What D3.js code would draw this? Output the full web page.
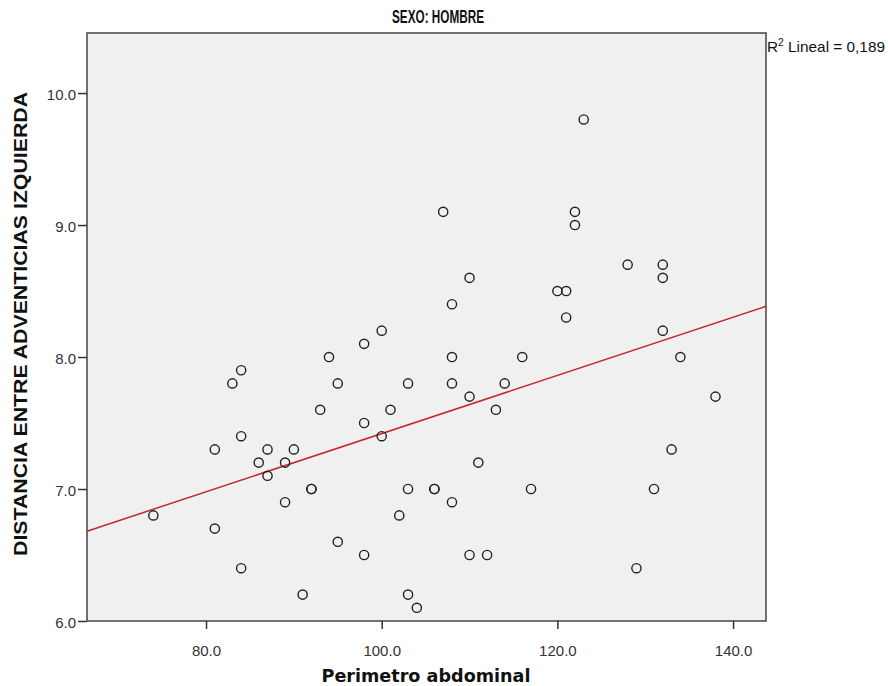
<!DOCTYPE html>
<html><head><meta charset="utf-8">
<script src="https://cdn.jsdelivr.net/npm/d3@7"></script>
<style>body{margin:0;background:#fff}svg{display:block}</style>
</head><body><div id="chart"></div>
<script>
const perimetro = [74,81,81,83,84,84,84,86,87,87,89,89,90,91,92,92,93,94,95,95,98,98,98,100,100,101,102,103,103,103,104,106,106,107,108,108,108,108,110,110,110,111,112,113,114,116,117,120,121,121,122,122,123,128,129,131,132,132,132,133,134,138];
const distancia = [6.8,7.3,6.7,7.8,7.9,7.4,6.4,7.2,7.3,7.1,7.2,6.9,7.3,6.2,7.0,7.0,7.6,8.0,7.8,6.6,8.1,7.5,6.5,8.2,7.4,7.6,6.8,7.8,7.0,6.2,6.1,7.0,7.0,9.1,8.4,8.0,7.8,6.9,8.6,7.7,6.5,7.2,6.5,7.6,7.8,8.0,7.0,8.5,8.5,8.3,9.1,9.0,9.8,8.7,6.4,7.0,8.7,8.6,8.2,7.3,8.0,7.7];
const xTicks = [80,100,120,140];
const yTicks = [6,7,8,9,10];
const xDomain = [66.45, 143.75];
const yDomain = [6.0, 10.455];

const W = 888, H = 686;
const m = {left:87, right:766, top:33, bottom:621};
const svg = d3.select("#chart").append("svg").attr("width",W).attr("height",H);
const x = d3.scaleLinear().domain(xDomain).range([m.left, m.right]);
const y = d3.scaleLinear().domain(yDomain).range([m.bottom, m.top]);

svg.append("rect").attr("x",m.left).attr("y",m.top).attr("width",m.right-m.left).attr("height",m.bottom-m.top)
  .attr("fill","#f0f0f0").attr("stroke","#444").attr("stroke-width",1.5);

// regression (least squares on the data)
const n = perimetro.length;
const mx = d3.mean(perimetro), my = d3.mean(distancia);
let sxy=0,sxx=0;
for(let i=0;i<n;i++){sxy+=(perimetro[i]-mx)*(distancia[i]-my);sxx+=(perimetro[i]-mx)**2;}
const b = sxy/sxx, a = my - b*mx;
svg.append("line").attr("x1",x(xDomain[0])).attr("x2",x(xDomain[1]))
  .attr("y1",y(a+b*xDomain[0])).attr("y2",y(a+b*xDomain[1]))
  .attr("stroke","#c3282d").attr("stroke-width",1.5);

svg.append("g").selectAll("circle").data(perimetro).join("circle")
  .attr("cx",(d)=>x(d)).attr("cy",(d,i)=>y(distancia[i])).attr("r",4.6)
  .attr("fill","none").attr("stroke","#222").attr("stroke-width",1.4);

const fmt = d3.format(".1f");
const xa = svg.append("g").attr("transform",`translate(0,${m.bottom})`)
  .call(d3.axisBottom(x).tickValues(xTicks).tickFormat(fmt).tickSize(8).tickSizeOuter(0));
xa.select(".domain").remove();
xa.selectAll("line").attr("stroke","#333").attr("stroke-width",1.5);
xa.selectAll("text").attr("font-family","Liberation Sans, Arial, sans-serif").attr("font-size",15).attr("fill","#333").attr("y",35).attr("dy",0);

const ya = svg.append("g").attr("transform",`translate(${m.left},0)`)
  .call(d3.axisLeft(y).tickValues(yTicks).tickFormat(fmt).tickSize(9).tickSizeOuter(0));
ya.select(".domain").remove();
ya.selectAll("line").attr("stroke","#333").attr("stroke-width",1.5);
ya.selectAll("text").attr("font-family","Liberation Sans, Arial, sans-serif").attr("font-size",15).attr("fill","#333").attr("x",-11).attr("dy","0.42em");

svg.append("text").attr("x",438).attr("y",23).attr("text-anchor","middle")
  .attr("font-family","Liberation Sans Narrow, Arial Narrow, Liberation Sans, sans-serif").attr("font-weight","bold").attr("font-size",19)
  .attr("textLength",92).attr("lengthAdjust","spacingAndGlyphs").attr("fill","#111").text("SEXO: HOMBRE");

const r2 = svg.append("text").attr("x",767).attr("y",52)
  .attr("font-family","Liberation Sans Narrow, Arial Narrow, Liberation Sans, sans-serif").attr("font-size",15).attr("fill","#111")
  .attr("textLength",118).attr("lengthAdjust","spacingAndGlyphs");
r2.append("tspan").text("R");
r2.append("tspan").attr("dy",-6).attr("font-size",10).text("2");
r2.append("tspan").attr("dy",6).text(" Lineal = 0,189");

svg.append("text").attr("x",426).attr("y",682).attr("text-anchor","middle")
  .attr("font-family","DejaVu Sans, Verdana, sans-serif").attr("font-weight","bold").attr("font-size",18)
  .attr("textLength",209).attr("lengthAdjust","spacingAndGlyphs").attr("fill","#111").text("Perimetro abdominal");

svg.append("text").attr("transform","translate(27,324) rotate(-90)").attr("text-anchor","middle")
  .attr("font-family","Liberation Sans Narrow, Arial Narrow, Liberation Sans, sans-serif").attr("font-weight","bold").attr("font-size",19)
  .attr("textLength",464).attr("lengthAdjust","spacingAndGlyphs").attr("fill","#111").text("DISTANCIA ENTRE ADVENTICIAS IZQUIERDA");
</script></body></html>
